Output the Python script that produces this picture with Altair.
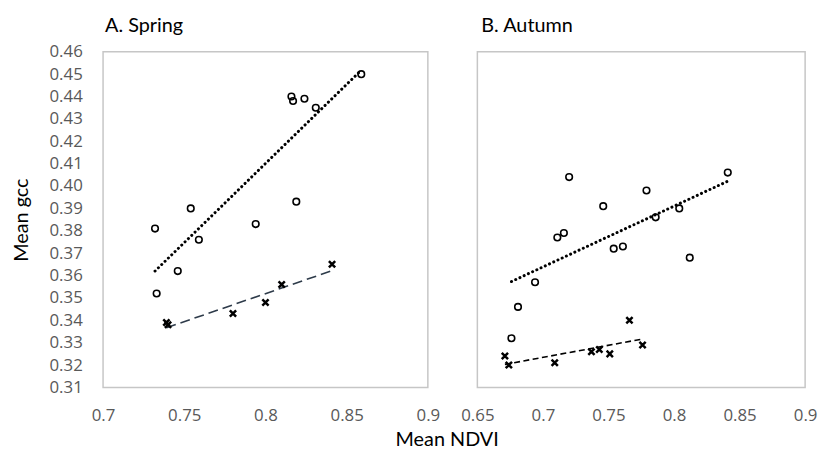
import altair as alt
import pandas as pd

# Spring (panel A)
spring_circle_ndvi = [0.859, 0.816, 0.817, 0.824, 0.831, 0.754, 0.819, 0.732, 0.794, 0.759, 0.746, 0.733]
spring_circle_gcc = [0.450, 0.440, 0.438, 0.439, 0.435, 0.390, 0.393, 0.381, 0.383, 0.376, 0.362, 0.352]
spring_cross_ndvi = [0.739, 0.740, 0.780, 0.800, 0.810, 0.841]
spring_cross_gcc = [0.339, 0.338, 0.343, 0.348, 0.356, 0.365]

# Autumn (panel B)
autumn_circle_ndvi = [0.841, 0.720, 0.779, 0.746, 0.804, 0.786, 0.716, 0.711, 0.761, 0.754, 0.812, 0.694, 0.681, 0.676]
autumn_circle_gcc = [0.406, 0.404, 0.398, 0.391, 0.390, 0.386, 0.379, 0.377, 0.373, 0.372, 0.368, 0.357, 0.346, 0.332]
autumn_cross_ndvi = [0.671, 0.674, 0.709, 0.737, 0.743, 0.751, 0.766, 0.776]
autumn_cross_gcc = [0.324, 0.320, 0.321, 0.326, 0.327, 0.325, 0.340, 0.329]

y_ticks = [0.31, 0.32, 0.33, 0.34, 0.35, 0.36, 0.37, 0.38, 0.39, 0.40, 0.41, 0.42, 0.43, 0.44, 0.45, 0.46]
spring_x_ticks = [0.7, 0.75, 0.8, 0.85, 0.9]
autumn_x_ticks = [0.65, 0.7, 0.75, 0.8, 0.85, 0.9]

CROSS = "M-1,-1L1,1M-1,1L1,-1"


def make_df(cx, cy, xx, xy):
    return pd.DataFrame({
        "ndvi": cx + xx,
        "gcc": cy + xy,
        "kind": ["circle"] * len(cx) + ["cross"] * len(xx),
    })


def panel(df, title, xdom, xticks, width, left, cross_dash, cross_color, title_dx):
    xscale = alt.Scale(domain=xdom, nice=False, zero=False)
    yscale = alt.Scale(domain=[0.31, 0.46], nice=False, zero=False)
    xaxis = alt.Axis(values=xticks, format="~g", labelFlush=False, labelOverlap=False,
                     domain=False, ticks=False, tickSize=0, grid=False, labelPadding=20,
                     title=None)
    if left:
        yaxis = alt.Axis(values=y_ticks, format=".2f", labelFlush=False, labelOverlap=False,
                         domain=False, ticks=False, tickSize=0, grid=False, labelPadding=21,
                         minExtent=59, maxExtent=59, titlePadding=13, title="Mean gcc")
    else:
        # invisible labels keep both panel titles at the same height
        yaxis = alt.Axis(values=y_ticks, format=".2f", labelFlush=False, labelOverlap=False,
                         domain=False, ticks=False, tickSize=0, grid=False, labelPadding=21,
                         labelOpacity=0, title=None)
    x = alt.X("ndvi:Q", scale=xscale, axis=xaxis)
    y = alt.Y("gcc:Q", scale=yscale, axis=yaxis)
    base = alt.Chart(df)
    circles = base.transform_filter(alt.datum.kind == "circle").mark_point(
        shape="circle", filled=False, size=44, strokeWidth=1.6, color="black", opacity=1
    ).encode(x=x, y=y)
    crosses = base.transform_filter(alt.datum.kind == "cross").mark_point(
        shape=CROSS, filled=False, size=40, strokeWidth=2.5, color="black", opacity=1
    ).encode(x=x, y=y)
    dotted = base.transform_filter(alt.datum.kind == "circle").transform_regression(
        "ndvi", "gcc"
    ).mark_line(color="black", strokeWidth=3, strokeDash=[0.1, 4.6], strokeCap="round").encode(x=x, y=y)
    dashed = base.transform_filter(alt.datum.kind == "cross").transform_regression(
        "ndvi", "gcc"
    ).mark_line(color=cross_color, strokeWidth=1.6, strokeDash=cross_dash).encode(x=x, y=y)
    return alt.layer(dotted, dashed, circles, crosses).properties(
        width=width, height=339,
        title=alt.TitleParams(title, anchor="start", frame="group", dx=title_dx, offset=7),
    )


spring_df = make_df(spring_circle_ndvi, spring_circle_gcc, spring_cross_ndvi, spring_cross_gcc)
autumn_df = make_df(autumn_circle_ndvi, autumn_circle_gcc, autumn_cross_ndvi, autumn_cross_gcc)

left = panel(spring_df, "A. Spring", [0.7, 0.9], spring_x_ticks, 328, True, [10, 5], "#2e3b4a", 2)
right = panel(autumn_df, "B. Autumn", [0.65, 0.9], autumn_x_ticks, 331, False, [6, 3.5], "black", 4)

chart = alt.hconcat(left, right, spacing=50, bounds="flush").properties(
    padding={"left": 3, "top": 5, "right": 0, "bottom": 0},
    background="white",
    title=alt.TitleParams("Mean NDVI", orient="bottom", anchor="middle", dx=33, offset=6,
                          font="Lato", fontSize=20, fontWeight="normal", color="black"),
).configure_view(
    stroke="#c6c6c6", strokeWidth=1.5
).configure_axis(
    labelFont="Open Sans", labelFontSize=17, labelColor="#595959",
    titleFont="Lato", titleFontSize=20, titleFontWeight="normal", titleColor="black",
).configure_title(
    font="Lato", fontSize=20, fontWeight="normal", color="black", anchor="start",
)

chart.save("out.html", embed_options={"renderer": "svg", "actions": False})
